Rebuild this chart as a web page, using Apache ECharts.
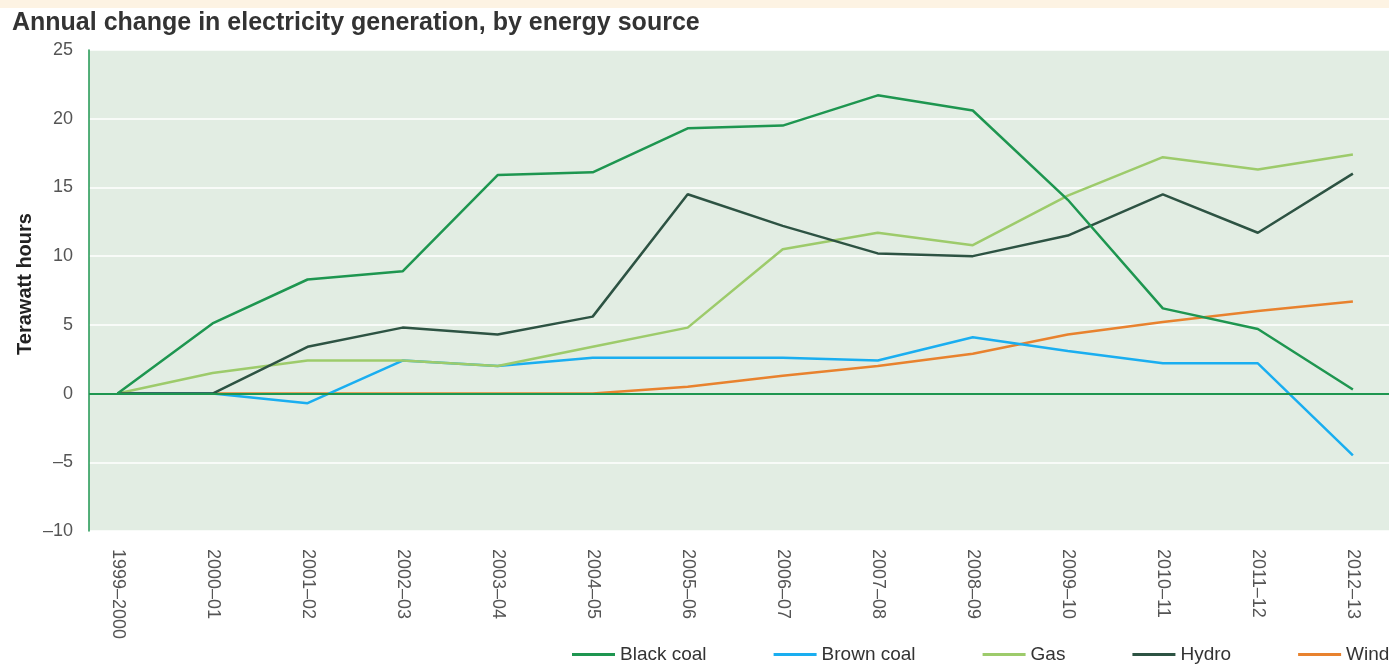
<!DOCTYPE html>
<html>
<head>
<meta charset="utf-8">
<title>Annual change in electricity generation</title>
<script src="https://cdn.jsdelivr.net/npm/echarts@6/dist/echarts.min.js"></script>
<style>
    html, body { margin: 0; padding: 0; background: #fff; }
    #_chart { width: 1389px; height: 665px; }
</style>
</head>
<body>
<div id="_chart"></div>
<script>
// category labels (financial years)
var years = ['1999–2000', '2000–01', '2001–02', '2002–03', '2003–04', '2004–05', '2005–06',
    '2006–07', '2007–08', '2008–09', '2009–10', '2010–11', '2011–12', '2012–13'];

// terawatt hours
var blackCoal = [0, 5.1, 8.3, 8.9, 15.9, 16.1, 19.3, 19.5, 21.7, 20.6, 14.1, 6.2, 4.7, 0.3];
var brownCoal = [0, 0, -0.7, 2.4, 2.0, 2.6, 2.6, 2.6, 2.4, 4.1, 3.1, 2.2, 2.2, -4.5];
var gas = [0, 1.5, 2.4, 2.4, 2.0, 3.4, 4.8, 10.5, 11.7, 10.8, 14.4, 17.2, 16.3, 17.4];
var hydro = [0, 0, 3.4, 4.8, 4.3, 5.6, 14.5, 12.2, 10.2, 10.0, 11.5, 14.5, 11.7, 16.0];
var wind = [0, 0, 0, 0, 0, 0, 0.5, 1.3, 2.0, 2.9, 4.3, 5.2, 6.0, 6.7];

var yTicks = [-10, -5, 0, 5, 10, 15, 20, 25];

function pairs(arr) {
    var out = [];
    for (var i = 0; i < arr.length; i++) {
        out.push([i, arr[i]]);
    }
    return out;
}

var tickIdx = [];
for (var i = 0; i < years.length; i++) tickIdx.push(i);

function makeLine(name, data, color) {
    return {
        name: name,
        type: 'line',
        data: pairs(data),
        symbol: 'none',
        silent: true,
        lineStyle: { color: color, width: 2.5 },
        itemStyle: { color: color }
    };
}

var chart = echarts.init(document.getElementById('_chart'));

var series = [
    makeLine('Wind', wind, '#e8822e'),
    makeLine('Brown coal', brownCoal, '#1aaef0'),
    makeLine('Gas', gas, '#9dcb6b'),
    makeLine('Hydro', hydro, '#2d5343'),
    makeLine('Black coal', blackCoal, '#1e9650')
];
// zero line
series[4].markLine = {
    silent: true,
    symbol: 'none',
    label: { show: false },
    lineStyle: { color: '#1e9650', width: 2, type: 'solid' },
    data: [{ yAxis: 0 }]
};

var option = {
    animation: false,
    textStyle: { fontFamily: 'Liberation Sans, Arial, sans-serif' },
    graphic: [{
        type: 'rect',
        z: -10,
        shape: { x: 0, y: 0, width: 1389, height: 8 },
        style: { fill: '#fdf3e3' }
    }, {
        // y axis title
        type: 'text',
        x: 25,
        y: 284,
        rotation: Math.PI / 2,
        style: {
            text: 'Terawatt hours',
            align: 'center',
            verticalAlign: 'middle',
            fontSize: 20,
            fontWeight: 'bold',
            fontFamily: 'Liberation Sans, Arial, sans-serif',
            fill: '#222'
        }
    }],
    title: {
        text: 'Annual change in electricity generation, by energy source',
        left: 7,
        top: 6,
        textStyle: { fontSize: 25, fontWeight: 'bold', color: '#333' }
    },
    grid: {
        left: 89,
        right: 0,
        top: 50,
        bottom: 134,
        show: true,
        backgroundColor: '#e2ede3',
        borderWidth: 0
    },
    legend: {
        left: 572,
        top: 645,
        width: 1000,
        padding: 0,
        icon: 'rect',
        itemWidth: 43,
        itemHeight: 3,
        itemGap: 67,
        selectedMode: false,
        data: ['Black coal', 'Brown coal', 'Gas', 'Hydro', 'Wind'],
        textStyle: { fontSize: 19, color: '#333' }
    },
    xAxis: {
        type: 'value',
        min: -0.3,
        max: 13.38,
        axisLine: { show: false },
        axisTick: { show: false },
        splitLine: { show: false },
        axisLabel: {
            customValues: tickIdx,
            rotate: -90,
            margin: 18,
            fontSize: 18,
            color: '#555',
            formatter: function (v) { return years[Math.round(v)]; }
        }
    },
    yAxis: {
        type: 'value',
        min: yTicks[0],
        max: yTicks[yTicks.length - 1],
        interval: 5,
        axisLine: { show: true, onZero: false, lineStyle: { color: '#1e9650', width: 1.5 } },
        axisTick: { show: false },
        axisLabel: {
            fontSize: 18,
            color: '#555',
            margin: 16,
            formatter: function (v) { return String(v).replace('-', '–'); }
        },
        splitLine: { show: true, lineStyle: { color: '#ffffff', width: 1.5 } }
    },
    series: series
};
chart.setOption(option);
</script>
</body>
</html>
